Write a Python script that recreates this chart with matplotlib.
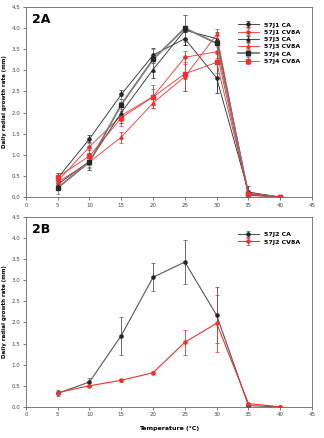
"""Daily radial growth rate vs temperature, panels 2A and 2B."""

import matplotlib
matplotlib.use("Agg")
import matplotlib.pyplot as plt

TEMPS = [5, 10, 15, 20, 25, 30, 35, 40]

# panel 2A
J1_CA = [0.45, 1.38, 2.43, 3.36, 3.75, 2.82, 0.12, 0.0]
J1_CA_ERR = [0.12, 0.08, 0.10, 0.18, 0.15, 0.35, 0.15, 0.0]
J1_CV8A = [0.38, 1.19, 1.93, 2.38, 3.31, 3.44, 0.05, 0.01]
J1_CV8A_ERR = [0.08, 0.08, 0.12, 0.28, 0.15, 0.15, 0.03, 0.0]
J3_CA = [0.30, 0.85, 2.00, 3.02, 3.95, 3.75, 0.05, 0.0]
J3_CA_ERR = [0.10, 0.20, 0.25, 0.20, 0.35, 0.15, 0.05, 0.0]
J3_CV8A = [0.35, 0.83, 1.42, 2.23, 2.85, 3.85, 0.04, 0.0]
J3_CV8A_ERR = [0.10, 0.12, 0.13, 0.12, 0.35, 0.12, 0.03, 0.0]
J4_CA = [0.22, 0.83, 2.19, 3.26, 4.00, 3.64, 0.08, 0.0]
J4_CA_ERR = [0.15, 0.15, 0.20, 0.25, 0.32, 0.25, 0.08, 0.0]
J4_CV8A = [0.48, 0.97, 1.88, 2.37, 2.92, 3.19, 0.08, 0.0]
J4_CV8A_ERR = [0.10, 0.20, 0.20, 0.20, 0.40, 0.25, 0.05, 0.0]

# panel 2B
J2_CA = [0.32, 0.59, 1.69, 3.07, 3.43, 2.17, 0.03, 0.0]
J2_CA_ERR = [0.07, 0.10, 0.45, 0.33, 0.51, 0.66, 0.03, 0.0]
J2_CV8A = [0.34, 0.50, 0.63, 0.81, 1.53, 1.98, 0.08, 0.0]
J2_CV8A_ERR = [0.04, 0.03, 0.03, 0.03, 0.29, 0.68, 0.02, 0.0]

BLACK = "#262626"
GREY = "#7a7a7a"
RED = "#ee3030"

SERIES_A = [
    ("57J1 CA", J1_CA, J1_CA_ERR, BLACK, "o", 0.6),
    ("57J1 CV8A", J1_CV8A, J1_CV8A_ERR, RED, "o", 0.6),
    ("57J3 CA", J3_CA, J3_CA_ERR, BLACK, "^", 0.6),
    ("57J3 CV8A", J3_CV8A, J3_CV8A_ERR, RED, "^", 0.6),
    ("57J4 CA", J4_CA, J4_CA_ERR, GREY, "s", 1.3),
    ("57J4 CV8A", J4_CV8A, J4_CV8A_ERR, RED, "s", 0.6),
]
SERIES_B = [
    ("57J2 CA", J2_CA, J2_CA_ERR, "#555555", "o", 0.8),
    ("57J2 CV8A", J2_CV8A, J2_CV8A_ERR, RED, "o", 0.8),
]


def style_axes(ax, panel):
    ax.set_xlim(0, 45)
    ax.set_ylim(0, 4.5)
    ax.set_xticks(range(0, 50, 5))
    ax.set_yticks([i * 0.5 for i in range(10)])
    ax.set_yticklabels([f"{i * 0.5:.1f}" for i in range(10)])
    ax.tick_params(labelsize=4, length=2, width=0.5, pad=2, colors="#444444")
    for spine in ax.spines.values():
        spine.set_linewidth(0.6)
        spine.set_color("#666666")
    ax.set_ylabel("Daily radial growth rate (mm)", fontsize=4, fontweight="bold", labelpad=3)
    ax.text(0.02, 0.97, panel, transform=ax.transAxes, fontsize=9,
            fontweight="bold", va="top", ha="left")


def draw(ax, series):
    for label, vals, errs, color, marker, lw in series:
        mcol = BLACK if color != RED else color
        ax.errorbar(TEMPS, vals, yerr=errs, color=color, lw=lw, marker=marker,
                    ms=2.3, mfc=mcol, mec=mcol, ecolor=color, elinewidth=0.6,
                    capsize=1.5, capthick=0.5, label=label)
    ax.legend(loc="upper right", bbox_to_anchor=(0.98, 0.95), frameon=False,
              handlelength=3.5, labelspacing=0.3,
              prop={"size": 4.5, "weight": "bold"})


fig = plt.figure(figsize=(3.24, 4.38), dpi=100)
ax_a = fig.add_axes([0.080, 0.550, 0.883, 0.434])
ax_b = fig.add_axes([0.080, 0.071, 0.883, 0.434])

draw(ax_a, SERIES_A)
style_axes(ax_a, "2A")
draw(ax_b, SERIES_B)
style_axes(ax_b, "2B")
ax_b.set_xlabel("Temperature (\u00b0C)", fontsize=4.5, fontweight="bold", labelpad=6)

fig.savefig("out.png", dpi=100)
